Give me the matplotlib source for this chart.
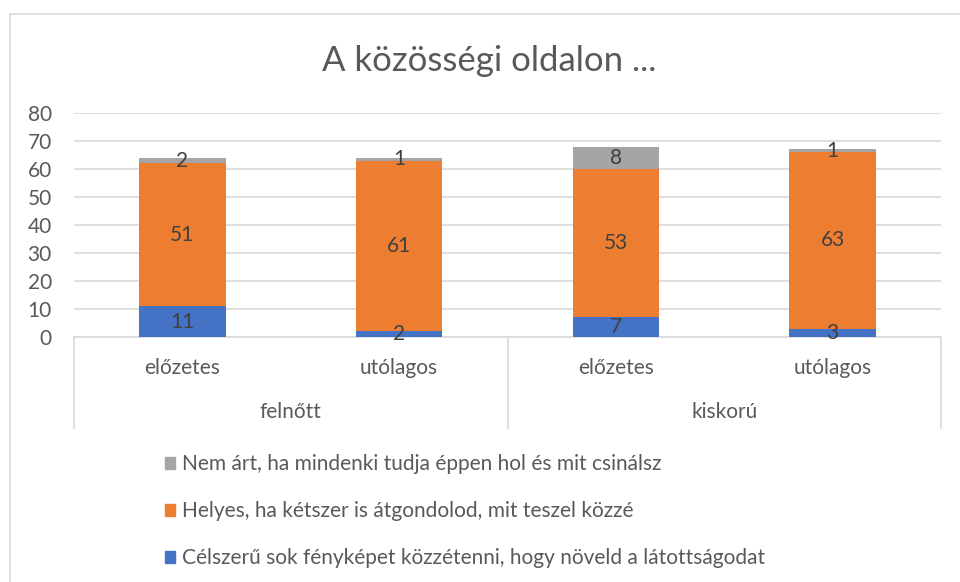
import matplotlib
matplotlib.use("Agg")
import matplotlib.pyplot as plt
from matplotlib.patches import Patch
from matplotlib.lines import Line2D

plt.rcParams['font.family'] = ['Lato', 'DejaVu Sans']

# data
categories = ['előzetes', 'utólagos', 'előzetes', 'utólagos']
groups = ['felnőtt', 'kiskorú']
celszeru = [11, 2, 7, 3]
helyes = [51, 61, 53, 63]
nem_art = [2, 1, 8, 1]
series_names = [
    'Célszerű sok fényképet közzétenni, hogy növeld a látottságodat',
    'Helyes, ha kétszer is átgondolod, mit teszel közzé',
    'Nem árt, ha mindenki tudja éppen hol és mit csinálsz',
]
colors = ['#4472C4', '#ED7D31', '#A5A5A5']
title = 'A közösségi oldalon ...'

text_col = '#595959'
label_col = '#404040'
grid_col = '#D9D9D9'

W, H = 960, 582
fig = plt.figure(figsize=(W / 100, H / 100), dpi=100)

# chart border (only left and top visible in the reference)
fig.add_artist(Line2D([10 / W, 10 / W], [0, 1 - 14 / H], color=grid_col, lw=1.2))
fig.add_artist(Line2D([10 / W, 1], [1 - 14 / H, 1 - 14 / H], color=grid_col, lw=1.2))

x0, x1 = 74, 941
y0, y1 = 337, 113
ax = fig.add_axes([x0 / W, 1 - y0 / H, (x1 - x0) / W, (y0 - y1) / H])

x = list(range(len(categories)))
bw = 0.4
bottom = [0] * len(x)
for vals, col in zip([celszeru, helyes, nem_art], colors):
    bars = ax.bar(x, vals, bw, bottom=bottom, color=col, zorder=3)
    for b, v in zip(bars, vals):
        ax.text(b.get_x() + b.get_width() / 2, b.get_y() + b.get_height() / 2, str(v),
                ha='center', va='center', fontsize=15, color=label_col, zorder=4)
    bottom = [a + b for a, b in zip(bottom, vals)]

ax.set_xlim(-0.5, len(x) - 0.5)
ax.set_ylim(0, 80)
ax.set_yticks(range(0, 81, 10))
ax.tick_params(axis='y', length=0, labelsize=15, labelcolor=text_col, pad=16)
ax.set_xticks([])
ax.grid(axis='y', color=grid_col, lw=1.2, zorder=0)
for s in ['top', 'right', 'left']:
    ax.spines[s].set_visible(False)
ax.spines['bottom'].set_color(grid_col)
ax.spines['bottom'].set_linewidth(1.2)

# multi-level category axis
trans = ax.get_xaxis_transform()
line_bot = -(428 - y0) / (y0 - y1)
for sx in [-0.5, 1.5, 3.5]:
    ax.plot([sx, sx], [0, line_bot], transform=trans, color=grid_col, lw=1.2, clip_on=False)
for xi, c in zip(x, categories):
    ax.text(xi, -(368 - y0) / (y0 - y1), c, transform=trans, ha='center', va='center',
            fontsize=15, color=text_col)
for gi, g in enumerate(groups):
    ax.text(gi * 2 + 0.5, -(412 - y0) / (y0 - y1), g, transform=trans, ha='center', va='center',
            fontsize=15, color=text_col)

fig.text(489 / W, 1 - 61 / H, title, ha='center', va='center', fontsize=25, color=text_col)

handles = [Patch(color=c) for c in colors][::-1]
leg = fig.legend(handles, series_names[::-1], loc='upper left',
                 bbox_to_anchor=(165 / W, 1 - 454 / H), frameon=False,
                 fontsize=15, labelcolor=text_col, handlelength=0.5, handleheight=0.5,
                 handletextpad=0.3, labelspacing=1.3, borderpad=0, borderaxespad=0)

fig.savefig('out.png', dpi=100)
